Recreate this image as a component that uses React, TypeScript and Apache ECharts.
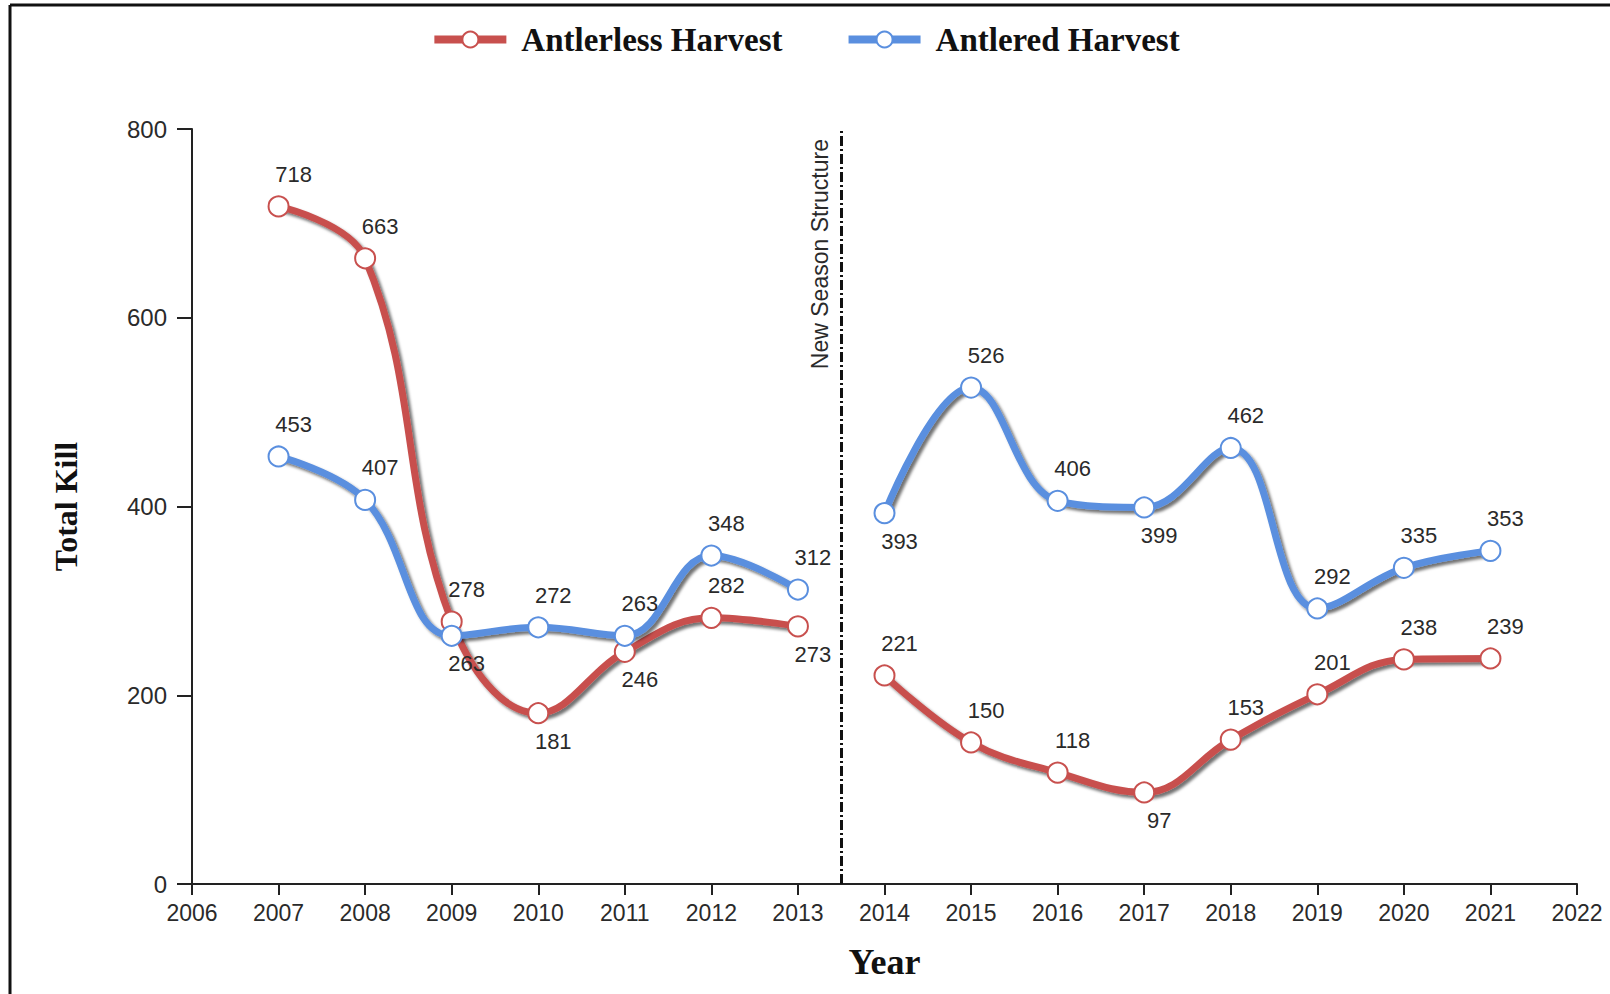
import React, { useEffect, useRef } from "react";
import * as echarts from "echarts";

const years = [2007, 2008, 2009, 2010, 2011, 2012, 2013, 2014, 2015, 2016, 2017, 2018, 2019, 2020, 2021];
const antlerless = [718, 663, 278, 181, 246, 282, 273, 221, 150, 118, 97, 153, 201, 238, 239];
const antlered = [453, 407, 263, 272, 263, 348, 312, 393, 526, 406, 399, 462, 292, 335, 353];
const antlerlessLabelSide = ["top", "top", "top", "bottom", "bottom", "top", "bottom", "top", "top", "top", "bottom", "top", "top", "top", "top"];
const antleredLabelSide = ["top", "top", "bottom", "top", "top", "top", "top", "bottom", "top", "top", "bottom", "top", "top", "top", "top"];
const breakYear = 2013.5;
const breakLabel = "New Season Structure";
const xMin = 2006;
const xMax = 2022;
const yMin = 0;
const yMax = 800;
const yStep = 200;

const RED = "#c8504e";
const BLUE = "#5a8fdf";

function buildData(values: number[], sides: string[]) {
  const out: any[] = [];
  let broke = false;
  years.forEach((yr, i) => {
    if (!broke && yr > breakYear) {
      out.push({ value: [breakYear, "-"] });
      broke = true;
    }
    out.push({
      value: [yr, values[i]],
      label: { position: sides[i], distance: sides[i] === "top" ? 10 : 6 },
    });
  });
  return out;
}

export default function App() {
  const ref = useRef<HTMLDivElement>(null);
  useEffect(() => {
    if (!ref.current) return;
    const chart = echarts.init(ref.current, undefined, { renderer: "svg" });
    const labelCommon = {
      show: true,
      formatter: (p: any) => String(p.value[1]),
      fontFamily: "Arial, 'Liberation Sans', sans-serif",
      fontSize: 22,
      color: "#2a2a2a",
      offset: [15, 0],
    };
    const shadow = {
      shadowColor: "rgba(0,0,0,0.55)",
      shadowBlur: 3,
      shadowOffsetX: 3,
      shadowOffsetY: 3,
    };
    chart.setOption({
      animation: false,
      backgroundColor: "#fff",
      legend: {
        top: 18,
        left: "center",
        itemWidth: 72,
        itemHeight: 20,
        itemGap: 62,
        lineStyle: { width: 8 },
        textStyle: {
          fontFamily: "'Liberation Serif', 'Times New Roman', serif",
          fontWeight: "bold",
          fontSize: 33,
          color: "#111",
          padding: [0, 0, 0, 10],
        },
        data: ["Antlerless Harvest", "Antlered Harvest"],
      },
      grid: { left: 192, right: 33, top: 129, bottom: 110 },
      xAxis: {
        type: "value",
        min: xMin,
        max: xMax,
        interval: 1,
        name: "Year",
        nameLocation: "middle",
        nameGap: 60,
        nameTextStyle: {
          fontFamily: "'Liberation Serif', 'Times New Roman', serif",
          fontWeight: "bold",
          fontSize: 36,
          color: "#111",
        },
        axisLine: { show: true, lineStyle: { color: "#222", width: 2 } },
        axisTick: { show: true, length: 11, lineStyle: { color: "#222", width: 2 } },
        axisLabel: {
          fontFamily: "Arial, 'Liberation Sans', sans-serif",
          fontSize: 23,
          color: "#2a2a2a",
          margin: 17,
          formatter: (v: number) => String(v),
        },
        splitLine: { show: false },
      },
      yAxis: {
        type: "value",
        min: yMin,
        max: yMax,
        interval: yStep,
        name: "Total Kill",
        nameLocation: "middle",
        nameGap: 110,
        nameTextStyle: {
          fontFamily: "'Liberation Serif', 'Times New Roman', serif",
          fontWeight: "bold",
          fontSize: 32,
          color: "#111",
        },
        axisLine: { show: true, lineStyle: { color: "#222", width: 2 } },
        axisTick: { show: true, length: 15, lineStyle: { color: "#222", width: 2 } },
        axisLabel: {
          fontFamily: "Arial, 'Liberation Sans', sans-serif",
          fontSize: 24,
          color: "#2a2a2a",
          margin: 25,
        },
        splitLine: { show: false },
      },
      graphic: [
        { type: "line", shape: { x1: 10, y1: 5, x2: 1610, y2: 5 }, style: { stroke: "#111", lineWidth: 3 } },
        { type: "line", shape: { x1: 10, y1: 5, x2: 10, y2: 994 }, style: { stroke: "#111", lineWidth: 3 } },
      ],
      series: [
        {
          name: "Antlerless Harvest",
          type: "line",
          smooth: 0.4,
          connectNulls: false,
          symbol: "circle",
          symbolSize: 20,
          lineStyle: { color: RED, width: 7, ...shadow },
          itemStyle: { color: "#fff", borderColor: RED, borderWidth: 2 },
          label: labelCommon,
          data: buildData(antlerless, antlerlessLabelSide),
          markLine: {
            silent: true,
            symbol: ["none", "none"],
            lineStyle: { color: "#111", width: 3, type: [10, 3, 2, 3] },
            label: {
              show: true,
              position: "insideEndTop",
              formatter: breakLabel,
              fontFamily: "Arial, 'Liberation Sans', sans-serif",
              fontSize: 23,
              color: "#2a2a2a",
              distance: [10, 10],
            },
            data: [{ xAxis: breakYear }],
          },
          z: 2,
        },
        {
          name: "Antlered Harvest",
          type: "line",
          smooth: 0.4,
          connectNulls: false,
          symbol: "circle",
          symbolSize: 20,
          lineStyle: { color: BLUE, width: 7, ...shadow },
          itemStyle: { color: "#fff", borderColor: BLUE, borderWidth: 2 },
          label: labelCommon,
          data: buildData(antlered, antleredLabelSide),
          z: 3,
        },
      ],
    });
    return () => chart.dispose();
  }, []);
  return (
    <div
      ref={ref}
      style={{ position: "absolute", left: 0, top: 0, width: 1610, height: 994 }}
    />
  );
}
